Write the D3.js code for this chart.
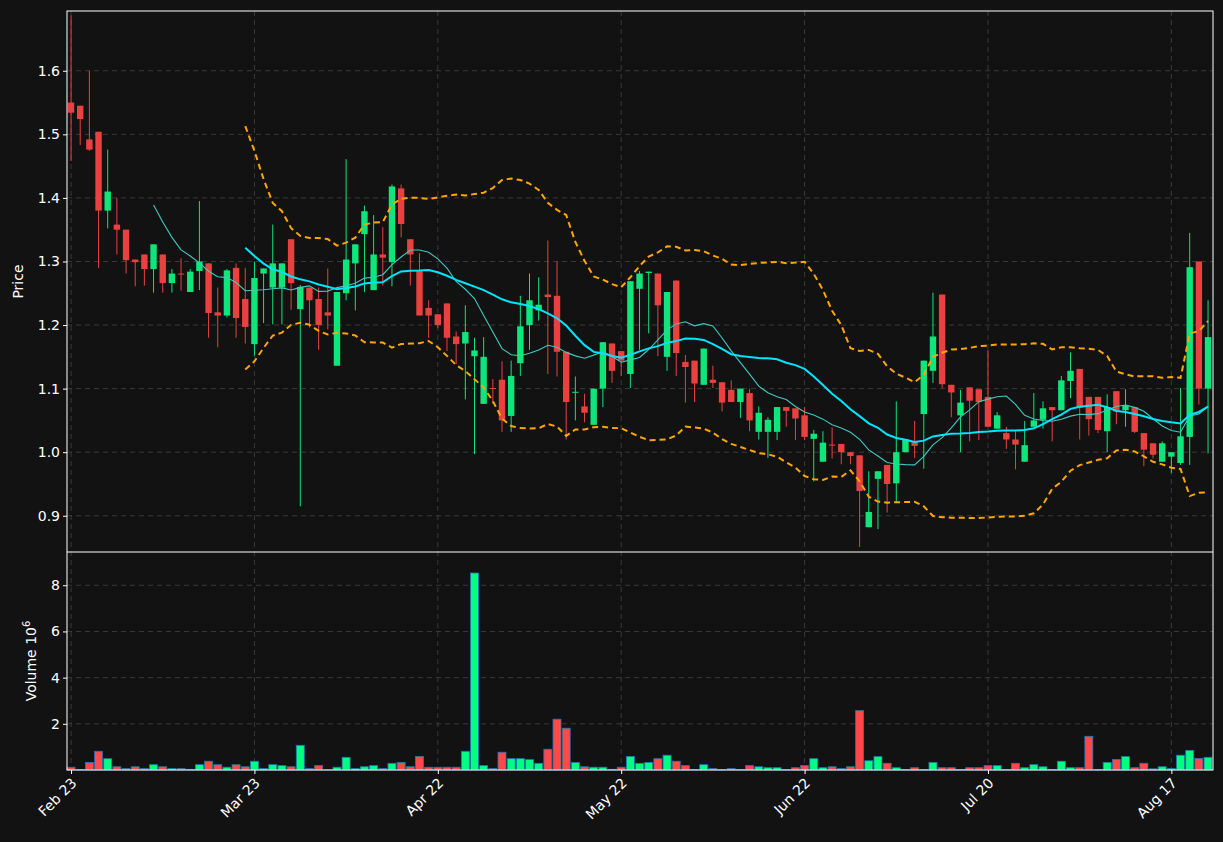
<!DOCTYPE html>
<html><head><meta charset="utf-8">
<script src="https://cdn.jsdelivr.net/npm/d3@7"></script>
<style>body{margin:0;background:#121212;}svg{display:block;}text{font-family:"DejaVu Sans",sans-serif;}</style>
</head><body>
<svg id="c" width="1223" height="842"></svg>
<script>
const opens=[1.550,1.545,1.492,1.504,1.380,1.358,1.350,1.303,1.311,1.288,1.311,1.266,1.281,1.252,1.285,1.297,1.220,1.215,1.290,1.241,1.170,1.281,1.259,1.259,1.335,1.225,1.259,1.241,1.220,1.136,1.250,1.297,1.343,1.255,1.311,1.299,1.415,1.335,1.285,1.227,1.217,1.234,1.182,1.171,1.151,1.076,1.101,1.114,1.057,1.140,1.200,1.223,1.248,1.246,1.158,1.094,1.072,1.043,1.100,1.171,1.159,1.123,1.257,1.282,1.281,1.150,1.270,1.142,1.144,1.106,1.114,1.110,1.098,1.079,1.093,1.032,1.032,1.032,1.071,1.069,1.058,1.021,0.985,1.012,1.013,1.000,0.995,0.882,0.958,0.980,0.951,1.000,1.016,1.060,1.128,1.248,1.106,1.058,1.102,1.099,1.087,1.037,1.030,1.020,0.985,1.040,1.051,1.071,1.066,1.112,1.131,1.087,1.087,1.033,1.096,1.066,1.071,1.030,1.014,0.985,0.993,0.983,1.024,1.300,1.100];
const highs=[1.687,1.545,1.600,1.504,1.476,1.400,1.350,1.303,1.311,1.327,1.311,1.288,1.305,1.288,1.395,1.297,1.259,1.288,1.297,1.290,1.300,1.289,1.358,1.297,1.335,1.263,1.259,1.259,1.289,1.252,1.461,1.327,1.388,1.373,1.354,1.421,1.421,1.335,1.313,1.239,1.217,1.234,1.190,1.231,1.180,1.181,1.115,1.143,1.144,1.246,1.281,1.275,1.333,1.300,1.158,1.119,1.092,1.100,1.173,1.171,1.159,1.269,1.285,1.284,1.281,1.252,1.270,1.153,1.144,1.163,1.136,1.110,1.113,1.100,1.100,1.072,1.055,1.071,1.071,1.069,1.071,1.035,1.033,1.039,1.013,1.000,0.995,0.970,0.970,0.980,1.080,1.020,1.049,1.144,1.251,1.248,1.106,1.098,1.102,1.099,1.161,1.063,1.040,1.035,1.049,1.093,1.080,1.071,1.120,1.157,1.131,1.087,1.087,1.091,1.096,1.099,1.071,1.030,1.014,1.017,1.000,1.101,1.345,1.300,1.239];
const lows=[1.458,1.483,1.474,1.290,1.352,1.311,1.281,1.261,1.262,1.251,1.251,1.251,1.254,1.252,1.255,1.180,1.165,1.212,1.180,1.171,1.152,1.203,1.201,1.201,1.224,0.915,1.196,1.161,1.193,1.136,1.239,1.223,1.252,1.255,1.262,1.261,1.338,1.262,1.215,1.180,1.195,1.159,1.139,1.083,0.997,1.076,1.076,1.032,1.032,1.120,1.161,1.207,1.123,1.119,1.020,1.050,1.047,1.043,1.071,1.109,1.120,1.101,1.161,1.187,1.151,1.128,1.120,1.078,1.079,1.106,1.101,1.064,1.079,1.054,1.033,1.020,0.991,1.019,1.040,1.019,1.019,0.954,0.985,0.990,0.981,0.981,0.851,0.882,0.879,0.905,0.922,1.000,0.991,0.974,1.109,1.101,1.055,1.000,1.017,1.019,1.040,1.037,1.005,0.973,0.985,1.040,1.037,1.017,1.066,1.085,1.020,1.026,1.030,1.000,1.044,1.040,1.030,0.978,0.990,0.985,0.967,0.980,0.980,1.075,0.998];
const closes=[1.534,1.524,1.476,1.380,1.410,1.350,1.302,1.299,1.288,1.327,1.266,1.281,1.280,1.284,1.300,1.219,1.215,1.286,1.211,1.197,1.274,1.289,1.297,1.297,1.266,1.260,1.239,1.200,1.215,1.252,1.303,1.327,1.379,1.311,1.306,1.418,1.359,1.311,1.215,1.215,1.200,1.180,1.170,1.189,1.160,1.150,1.100,1.050,1.120,1.198,1.239,1.232,1.244,1.158,1.079,1.095,1.062,1.100,1.173,1.128,1.144,1.269,1.281,1.284,1.231,1.252,1.156,1.134,1.108,1.163,1.109,1.078,1.079,1.100,1.050,1.062,1.051,1.071,1.065,1.053,1.024,1.029,1.015,1.011,1.000,0.994,0.939,0.906,0.970,0.950,1.000,1.020,1.010,1.144,1.182,1.107,1.094,1.078,1.081,1.079,1.040,1.058,1.020,1.012,1.011,1.050,1.069,1.066,1.113,1.128,1.070,1.052,1.035,1.071,1.064,1.074,1.032,1.004,0.996,1.014,1.000,1.025,1.291,1.100,1.181];
const volumes=[0.12,0.02,0.33,0.81,0.49,0.14,0.06,0.14,0.06,0.23,0.14,0.06,0.06,0.03,0.23,0.38,0.23,0.12,0.23,0.14,0.38,0.06,0.23,0.19,0.14,1.07,0.06,0.19,0.01,0.12,0.55,0.06,0.14,0.19,0.06,0.29,0.33,0.14,0.59,0.12,0.12,0.12,0.12,0.81,8.53,0.19,0.06,0.77,0.49,0.49,0.45,0.29,0.90,2.20,1.81,0.33,0.14,0.12,0.12,0.03,0.12,0.59,0.29,0.33,0.49,0.64,0.38,0.19,0.02,0.23,0.06,0.02,0.06,0.02,0.19,0.14,0.10,0.10,0.02,0.10,0.19,0.49,0.10,0.14,0.06,0.14,2.57,0.40,0.58,0.29,0.10,0.02,0.10,0.02,0.33,0.10,0.10,0.02,0.10,0.10,0.19,0.19,0.02,0.29,0.10,0.23,0.14,0.02,0.38,0.10,0.10,1.46,0.02,0.33,0.46,0.58,0.10,0.29,0.05,0.14,0.06,0.64,0.85,0.50,0.55];
const tickIdx=[0,20,40,60,80,100,120];
const tickLabels=["Feb 23","Mar 23","Apr 22","May 22","Jun 22","Jul 20","Aug 17"];
const priceTicks=[0.9,1.0,1.1,1.2,1.3,1.4,1.5,1.6];
const volTicks=[2,4,6,8];

const svg=d3.select("#c");
const L=67,R=1213,PT=11,PB=552,VB=770;
const n=closes.length;
const x=d3.scaleLinear().domain([-0.44,n-0.46]).range([L,R]);
const y=d3.scaleLinear().domain([0.843,1.694]).range([PB,PT]);
const yv=d3.scaleLinear().domain([0,9.44]).range([VB,PB]);
const up="#0ee57a",dn="#e8413f",vup="#00ff80",vdn="#ff4848";
svg.append("rect").attr("width",1223).attr("height",842).attr("fill","#121212");
const grid="#3a3a3a";
const g=svg.append("g");
tickIdx.forEach(t=>{g.append("line").attr("x1",x(t)).attr("x2",x(t)).attr("y1",PT).attr("y2",VB).attr("stroke",grid).attr("stroke-dasharray","5,4");});
priceTicks.forEach(t=>{g.append("line").attr("x1",L).attr("x2",R).attr("y1",y(t)).attr("y2",y(t)).attr("stroke",grid).attr("stroke-dasharray","5,4");});
volTicks.forEach(t=>{g.append("line").attr("x1",L).attr("x2",R).attr("y1",yv(t)).attr("y2",yv(t)).attr("stroke",grid).attr("stroke-dasharray","5,4");});
function sma(p){return closes.map((_,i)=>i<p-1?null:d3.mean(closes.slice(i-p+1,i+1)));}
function sd(p){return closes.map((_,i)=>i<p-1?null:d3.deviation(closes.slice(i-p+1,i+1))*Math.sqrt((p-1)/p));}
const ma10=sma(10),ma20=sma(20),s20=sd(20);
const upper=ma20.map((m,i)=>m==null?null:m+2*s20[i]),lower=ma20.map((m,i)=>m==null?null:m-2*s20[i]);
const line=d3.line().defined(d=>d!=null).x((d,i)=>x(i)).y(d=>y(d));
svg.append("clipPath").attr("id","pc").append("rect").attr("x",L).attr("y",PT).attr("width",R-L).attr("height",PB-PT);
const pg=svg.append("g").attr("clip-path","url(#pc)");
const bw=6.4;
closes.forEach((c,i)=>{const o=opens[i];const col=c>=o?up:dn;
 pg.append("line").attr("x1",x(i)).attr("x2",x(i)).attr("y1",y(highs[i])).attr("y2",y(lows[i])).attr("stroke",col).attr("stroke-width",1);
 const t=y(Math.max(o,c)),b=y(Math.min(o,c));
 pg.append("rect").attr("x",x(i)-bw/2).attr("y",t).attr("width",bw).attr("height",Math.max(1,b-t)).attr("fill",col);
});
pg.append("path").attr("d",line(ma10)).attr("fill","none").attr("stroke","#3fc9c0").attr("stroke-width",1.1);
pg.append("path").attr("d",line(ma20)).attr("fill","none").attr("stroke","#00e5ff").attr("stroke-width",2);
[upper,lower].forEach(a=>pg.append("path").attr("d",line(a)).attr("fill","none").attr("stroke","#ffa500").attr("stroke-width",2).attr("stroke-dasharray","6,4"));
const vw=8;
volumes.forEach((v,i)=>{const col=closes[i]>=opens[i]?vup:vdn;
 svg.append("rect").attr("x",x(i)-vw/2).attr("y",yv(v)).attr("width",vw).attr("height",yv(0)-yv(v)).attr("fill",col).attr("stroke","#1f77b4").attr("stroke-width",0.8);
});
svg.append("rect").attr("x",L).attr("y",PT).attr("width",R-L).attr("height",VB-PT).attr("fill","none").attr("stroke","#fff").attr("stroke-width",1);
svg.append("line").attr("x1",L).attr("x2",R).attr("y1",PB).attr("y2",PB).attr("stroke","#fff");
const ya=svg.append("g").attr("transform",`translate(${L},0)`).call(d3.axisLeft(y).tickValues(priceTicks).tickFormat(d3.format(".1f")).tickSize(4));
const va=svg.append("g").attr("transform",`translate(${L},0)`).call(d3.axisLeft(yv).tickValues(volTicks).tickFormat(d3.format("d")).tickSize(4));
const xa=svg.append("g").attr("transform",`translate(0,${VB})`).call(d3.axisBottom(x).tickValues(tickIdx).tickFormat((d,i)=>tickLabels[i]).tickSize(4));
[ya,va,xa].forEach(a=>{a.select(".domain").remove();a.selectAll("line").attr("stroke","#fff");a.selectAll("text").attr("fill","#fff").style("font-size","14px").style("font-family","DejaVu Sans");});
ya.selectAll("text").attr("x",-7);va.selectAll("text").attr("x",-7);
xa.selectAll("text").attr("text-anchor","end").attr("dy","0").attr("y",0).attr("transform","translate(6,14) rotate(-45)");
svg.append("text").attr("transform",`translate(23,${(PT+PB)/2}) rotate(-90)`).attr("text-anchor","middle").attr("fill","#fff").style("font-size","14px").text("Price");
const vt=svg.append("text").attr("transform",`translate(36,${(PB+VB)/2}) rotate(-90)`).attr("text-anchor","middle").attr("fill","#fff").style("font-size","14px");
vt.append("tspan").text("Volume  10");vt.append("tspan").attr("dy","-6").style("font-size","10px").text("6");
</script></body></html>
